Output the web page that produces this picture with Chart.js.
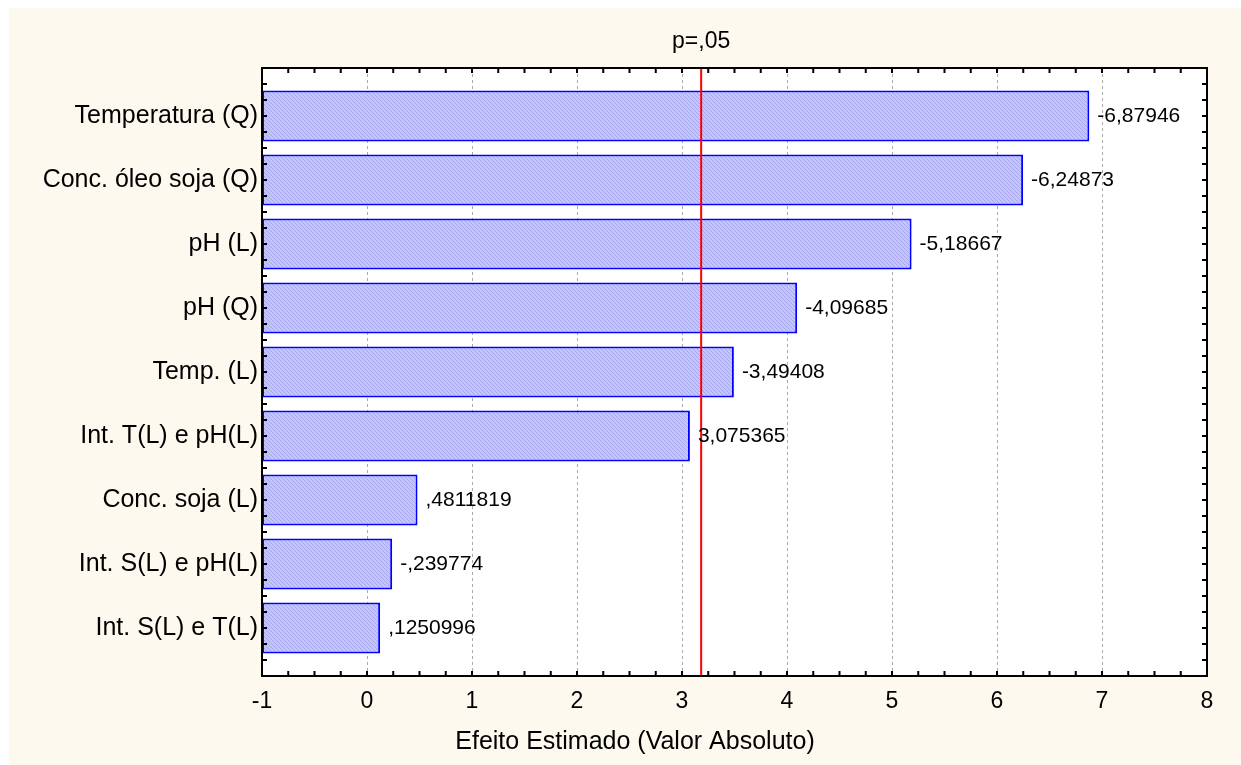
<!DOCTYPE html>
<html>
<head>
<meta charset="utf-8">
<script src="https://cdn.jsdelivr.net/npm/chart.js@4.4.1/dist/chart.umd.min.js"></script>
<style>
  html, body { margin: 0; padding: 0; background: #fff; }
  canvas { display: block; }
</style>
</head>
<body>
<canvas id="pareto" width="1241" height="765"></canvas>
<script>
// Fatores e efeitos estimados (t) do diagrama de Pareto
const fatores = ['Temperatura (Q)', 'Conc. óleo soja (Q)', 'pH (L)', 'pH (Q)', 'Temp. (L)',
  'Int. T(L) e pH(L)', 'Conc. soja (L)', 'Int. S(L) e pH(L)', 'Int. S(L) e T(L)'];
const efeitos = [-6.87946, -6.24873, -5.18667, -4.09685, -3.49408, 3.075365, 0.4811819, -0.239774, 0.1250996];
const pCritico = 3.182446;   // t crítico para p = 0,05
const rotuloP = 'p=,05';
const eixoX = { min: -1, max: 8 };
const tituloX = 'Efeito Estimado (Valor Absoluto)';

const FONTE = "Arial, 'Liberation Sans', sans-serif";

// formato tipo Statistica: vírgula decimal e sem zero à esquerda
function fmt(v) {
  return String(v).replace('.', ',').replace(/^(-?)0,/, '$1,');
}

// preenchimento hachurado das barras
function hachura() {
  const c = document.createElement('canvas');
  c.width = 4; c.height = 4;
  const g = c.getContext('2d');
  g.fillStyle = '#c5c5fb';
  g.fillRect(0, 0, 4, 4);
  g.strokeStyle = '#a6a6ee';
  g.lineWidth = 1;
  g.beginPath();
  g.moveTo(0, 0); g.lineTo(4, 4);
  g.moveTo(-2, 2); g.lineTo(2, 6);
  g.moveTo(2, -2); g.lineTo(6, 2);
  g.stroke();
  return g.createPattern(c, 'repeat');
}

const moldura = {
  id: 'moldura',
  beforeDraw(chart) {
    const { ctx, chartArea: a } = chart;
    ctx.save();
    ctx.fillStyle = '#ffffff';
    ctx.fillRect(0, 0, chart.width, chart.height);
    ctx.fillStyle = '#fdf9ef';
    ctx.fillRect(9, 8, chart.width - 9, chart.height - 8);
    ctx.fillStyle = '#ffffff';
    ctx.fillRect(a.left, a.top, a.right - a.left, a.bottom - a.top);
    ctx.restore();
  },
  beforeDatasetsDraw(chart) {
    const { ctx, chartArea: a, scales: { x } } = chart;
    ctx.save();
    ctx.strokeStyle = '#aaaaaa';
    ctx.lineWidth = 1;
    ctx.setLineDash([3, 3]);
    for (let v = eixoX.min + 1; v < eixoX.max; v++) {
      const px = Math.round(x.getPixelForValue(v)) + 0.5;
      ctx.beginPath();
      ctx.moveTo(px, a.top);
      ctx.lineTo(px, a.bottom);
      ctx.stroke();
    }
    ctx.restore();
  },
  afterDatasetsDraw(chart) {
    const { ctx, chartArea: a, scales: { x, y } } = chart;
    ctx.save();

    // linha do efeito crítico
    const pc = x.getPixelForValue(pCritico);
    ctx.strokeStyle = '#ff0000';
    ctx.lineWidth = 2;
    ctx.beginPath();
    ctx.moveTo(pc, a.top);
    ctx.lineTo(pc, a.bottom);
    ctx.stroke();

    // valores ao lado das barras
    ctx.fillStyle = '#000';
    ctx.font = '21px ' + FONTE;
    ctx.textAlign = 'left';
    ctx.textBaseline = 'middle';
    efeitos.forEach((v, i) => {
      ctx.fillText(fmt(v), x.getPixelForValue(Math.abs(v)) + 8, y.getPixelForValue(i));
    });

    // moldura da área do gráfico
    ctx.strokeStyle = '#000';
    ctx.lineWidth = 2;
    ctx.strokeRect(a.left, a.top, a.right - a.left, a.bottom - a.top);

    // marcas internas a cada 0,25
    const tl = 5;
    ctx.lineWidth = 2;
    ctx.beginPath();
    for (let v = eixoX.min; v <= eixoX.max + 1e-9; v += 0.25) {
      const px = x.getPixelForValue(v);
      ctx.moveTo(px, a.bottom); ctx.lineTo(px, a.bottom - tl);
      ctx.moveTo(px, a.top); ctx.lineTo(px, a.top + tl);
    }
    for (let v = y.min; v <= y.max + 1e-9; v += 0.25) {
      const py = y.getPixelForValue(v);
      ctx.moveTo(a.left, py); ctx.lineTo(a.left + tl, py);
      ctx.moveTo(a.right, py); ctx.lineTo(a.right - tl, py);
    }
    ctx.stroke();

    // rótulo p acima da linha crítica e título do eixo
    ctx.textAlign = 'center';
    ctx.font = '23px ' + FONTE;
    ctx.fillText(rotuloP, pc, 42);
    ctx.font = '25px ' + FONTE;
    ctx.fillText(tituloX, 635, 742);
    ctx.restore();
  }
};

new Chart(document.getElementById('pareto').getContext('2d'), {
  type: 'bar',
  data: {
    datasets: [{
      data: efeitos.map((v, i) => ({ x: [eixoX.min, Math.abs(v)], y: i })),
      backgroundColor: hachura(),
      borderColor: '#0000ff',
      borderWidth: 2,
      borderSkipped: false,
      barPercentage: 0.8,
      categoryPercentage: 1
    }]
  },
  options: {
    indexAxis: 'y',
    responsive: false,
    animation: false,
    events: [],
    layout: { padding: { top: 68, right: 34, left: 0, bottom: 0 } },
    plugins: { legend: { display: false }, tooltip: { enabled: false }, title: { display: false } },
    scales: {
      x: {
        type: 'linear',
        min: eixoX.min,
        max: eixoX.max,
        offset: false,
        ticks: { stepSize: 1, color: '#000', font: { family: FONTE, size: 23 }, padding: 12 },
        grid: { display: false, drawTicks: false, offset: false },
        border: { display: false },
        afterFit(s) { s.height = 89; }
      },
      y: {
        type: 'linear',
        reverse: true,
        offset: false,
        min: -0.75,
        max: fatores.length - 0.25,
        afterBuildTicks(s) { s.ticks = fatores.map((f, i) => ({ value: i })); },
        ticks: {
          color: '#000',
          font: { family: FONTE, size: 25 },
          padding: 4,
          autoSkip: false,
          callback: (v) => fatores[v]
        },
        grid: { display: false, drawTicks: false, offset: false },
        border: { display: false },
        afterFit(s) { s.width = 262; }
      }
    }
  },
  plugins: [moldura]
});
</script>
</body>
</html>
